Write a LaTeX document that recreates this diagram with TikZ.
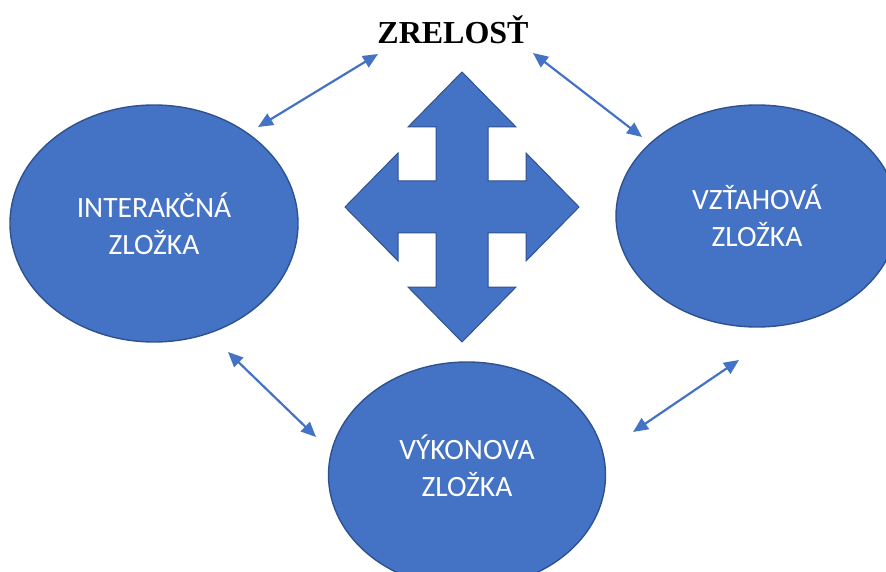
\documentclass[tikz,border=0pt]{standalone}
\usepackage{fontspec}
\setmainfont{Liberation Serif}
\newfontfamily\calibri{Carlito}
\usetikzlibrary{shapes.geometric,arrows.meta}
\definecolor{ofblue}{HTML}{4472C4}
\definecolor{ofedge}{HTML}{2F528F}
\tikzset{
  comp/.style={ellipse, fill=ofblue, draw=ofedge, line width=1.4pt, inner sep=0pt,
    text=white, align=center, font=\calibri\fontsize{29.5}{37}\selectfont},
  comptext/.style={text=white, align=center, inner sep=0pt, font=\calibri\fontsize{29.5}{37}\selectfont},
  link/.style={draw=ofblue, line width=2.2pt, {Triangle[length=15pt,width=13pt]}-{Triangle[length=15pt,width=13pt]}},
  cross/.style={fill=ofblue, draw=ofedge, line width=1pt, line join=miter}
}
\begin{document}
\begin{tikzpicture}[x=1pt,y=-1pt]
\useasboundingbox (0,0) rectangle (886,572);
\clip (0,0) rectangle (886,572);
\node[comp, minimum width=288pt, minimum height=237pt] (inter) at (154,223.5) {INTERAKČNÁ\\ZLOŽKA};
\node[comp, minimum width=282pt, minimum height=222pt] (vztah) at (757,216) {VZŤAHOVÁ\\ZLOŽKA};
\node[comp, minimum width=277pt, minimum height=226pt] (vykon) at (467,475) {};
\node[comptext] (vykontext) at ([yshift=9pt]vykon.center) {VÝKONOVA\\ZLOŽKA};
\node[font=\bfseries\fontsize{32}{36}\selectfont] (zrel) at (453,30) {ZRELOSŤ};
\draw[cross] (462,207) ++(0,-135) -- ++(54,55) -- ++(-28,0) -- ++(0,54) -- ++(38,0) -- ++(0,-28)
  -- ++(53,54) -- ++(-53,54) -- ++(0,-28) -- ++(-38,0) -- ++(0,54) -- ++(28,0)
  -- ++(-54,55) -- ++(-54,-55) -- ++(28,0) -- ++(0,-54) -- ++(-38,0) -- ++(0,28)
  -- ++(-53,-54) -- ++(53,-54) -- ++(0,28) -- ++(38,0) -- ++(0,-54) -- ++(-28,0) -- cycle;
\coordinate (a1) at (258,127); \coordinate (a2) at (378,54);
\coordinate (b1) at (533,53); \coordinate (b2) at (642,137);
\coordinate (c1) at (228,352); \coordinate (c2) at (316,437);
\coordinate (d1) at (633,432); \coordinate (d2) at (739,360);
\draw[link] (a1) -- (a2);
\draw[link] (b1) -- (b2);
\draw[link] (c1) -- (c2);
\draw[link] (d1) -- (d2);
\end{tikzpicture}
\end{document}
